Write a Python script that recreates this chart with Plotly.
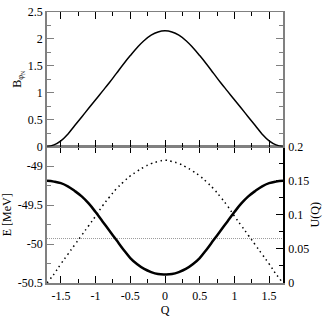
import plotly.graph_objects as go

# collective coordinate Q
q = [-1.7, -1.6, -1.5, -1.4, -1.3, -1.2, -1.1, -1.0, -0.9, -0.8, -0.7, -0.6,
     -0.5, -0.4, -0.3, -0.2, -0.1, 0.0, 0.1, 0.2, 0.3, 0.4, 0.5, 0.6, 0.7,
     0.8, 0.9, 1.0, 1.1, 1.2, 1.3, 1.4, 1.5, 1.6, 1.7]

# top panel: B_phi_N
b_phi = [0.0, 0.03, 0.105, 0.23, 0.39, 0.55, 0.71, 0.87, 1.03, 1.19, 1.36, 1.53,
         1.69, 1.84, 1.97, 2.07, 2.13, 2.15, 2.13, 2.07, 1.97, 1.84, 1.69, 1.53,
         1.36, 1.19, 1.03, 0.87, 0.71, 0.55, 0.39, 0.23, 0.105, 0.03, 0.0]

# bottom panel: energy E [MeV] (thick) and potential U(Q) (dotted)
energy = [-49.19, -49.20, -49.22, -49.26, -49.32, -49.39, -49.48, -49.59, -49.71,
          -49.83, -49.95, -50.07, -50.18, -50.26, -50.32, -50.36, -50.385, -50.39,
          -50.385, -50.36, -50.32, -50.26, -50.18, -50.07, -49.95, -49.83, -49.71,
          -49.59, -49.48, -49.39, -49.32, -49.26, -49.22, -49.20, -49.19]
u_q = [0.0, 0.013, 0.028, 0.042, 0.056, 0.070, 0.084, 0.098, 0.113, 0.126, 0.138,
       0.148, 0.157, 0.164, 0.170, 0.175, 0.178, 0.180, 0.178, 0.175, 0.170, 0.164,
       0.157, 0.148, 0.138, 0.126, 0.113, 0.098, 0.084, 0.070, 0.056, 0.042, 0.028,
       0.013, 0.0]
e_level = -49.93

x_ticks = [-1.5, -1, -0.5, 0, 0.5, 1, 1.5]
x_text = ["-1.5", "-1", "-0.5", "0", "0.5", "1", "1.5"]
b_ticks = [0, 0.5, 1, 1.5, 2, 2.5]
b_text = ["0", "0.5", "1", "1.5", "2", "2.5"]
e_ticks = [-50.5, -50, -49.5, -49]
e_text = ["-50.5", "-50", "-49.5", "-49"]
u_ticks = [0, 0.05, 0.1, 0.15, 0.2]
u_text = ["0", "0.05", "0.1", "0.15", "0.2"]

font = dict(family="Liberation Serif", size=12, color="black")
gray = "#808080"

fig = go.Figure()
fig.add_trace(go.Scatter(x=q, y=b_phi, xaxis="x2", yaxis="y", mode="lines",
                         line=dict(color="black", width=1.5, shape="spline", smoothing=1.2)))
fig.add_trace(go.Scatter(x=[q[0], q[-1]], y=[e_level, e_level], xaxis="x", yaxis="y2",
                         mode="lines", line=dict(color="#999999", width=1, dash="1px,1px")))
fig.add_trace(go.Scatter(x=q, y=energy, xaxis="x", yaxis="y2", mode="lines",
                         line=dict(color="black", width=2.5, shape="spline", smoothing=1.2)))
fig.add_trace(go.Scatter(x=q, y=u_q, xaxis="x", yaxis="y3", mode="lines",
                         line=dict(color="black", width=1.5, dash="1.5px,3.5px",
                                   shape="spline", smoothing=1.2)))

xcommon = dict(range=[-1.7, 1.7], tickmode="array", tickvals=x_ticks, ticks="inside",
               ticklen=7, tickcolor="black", showline=True, linecolor=gray,
               mirror="ticks", showgrid=False, zeroline=False,
               minor=dict(tickmode="linear", tick0=0, dtick=0.25, ticks="inside",
                          ticklen=4, tickcolor="black"))

fig.update_layout(
    width=327, height=320,
    margin=dict(l=47, r=44, t=5, b=37),
    paper_bgcolor="white", plot_bgcolor="white",
    showlegend=False, font=font,
    xaxis=dict(xcommon, anchor="y2", ticktext=x_text, ticklabelstandoff=1, linewidth=1.5,
               title=dict(text="Q", font=font, standoff=2)),
    xaxis2=dict(xcommon, anchor="y", matches="x", showticklabels=False, linewidth=1),
    yaxis=dict(domain=[0.5036, 1], range=[0, 2.5], anchor="x2", tickmode="array",
               tickvals=b_ticks, ticktext=b_text, ticks="inside", ticklen=7,
               tickcolor=gray, showline=True, linecolor=gray, linewidth=1.5,
               mirror="ticks", showgrid=False, zeroline=False,
               minor=dict(tickmode="linear", tick0=0, dtick=0.25, ticks="inside",
                          ticklen=4, tickcolor=gray),
               title=dict(text="B<sub>φ<sub>N</sub></sub>", font=font, standoff=4)),
    yaxis2=dict(domain=[0, 0.5036], range=[-50.5, -48.75], anchor="x", tickmode="array",
                tickvals=e_ticks, ticktext=e_text, ticks="inside", ticklen=7,
                tickcolor=gray, showline=True, linecolor=gray, linewidth=1.5,
                showgrid=False, zeroline=False,
                minor=dict(tickmode="linear", tick0=-50.5, dtick=0.25, ticks="inside",
                           ticklen=4, tickcolor=gray),
                title=dict(text="E [MeV]", font=font, standoff=4)),
    yaxis3=dict(range=[0, 0.2], overlaying="y2", anchor="x", side="right",
                tickmode="array", tickvals=u_ticks, ticktext=u_text, ticks="inside",
                ticklen=7, tickcolor="black", showline=True, linecolor="black",
                linewidth=1.5, showgrid=False, zeroline=False, ticklabelstandoff=1,
                minor=dict(tickmode="linear", tick0=0, dtick=0.025, ticks="inside",
                           ticklen=4, tickcolor="black"),
                title=dict(text="U(Q)", font=font, standoff=2)),
)

fig.write_html("out.html", config={"displayModeBar": False},
               post_script="document.body.style.margin='0';")
